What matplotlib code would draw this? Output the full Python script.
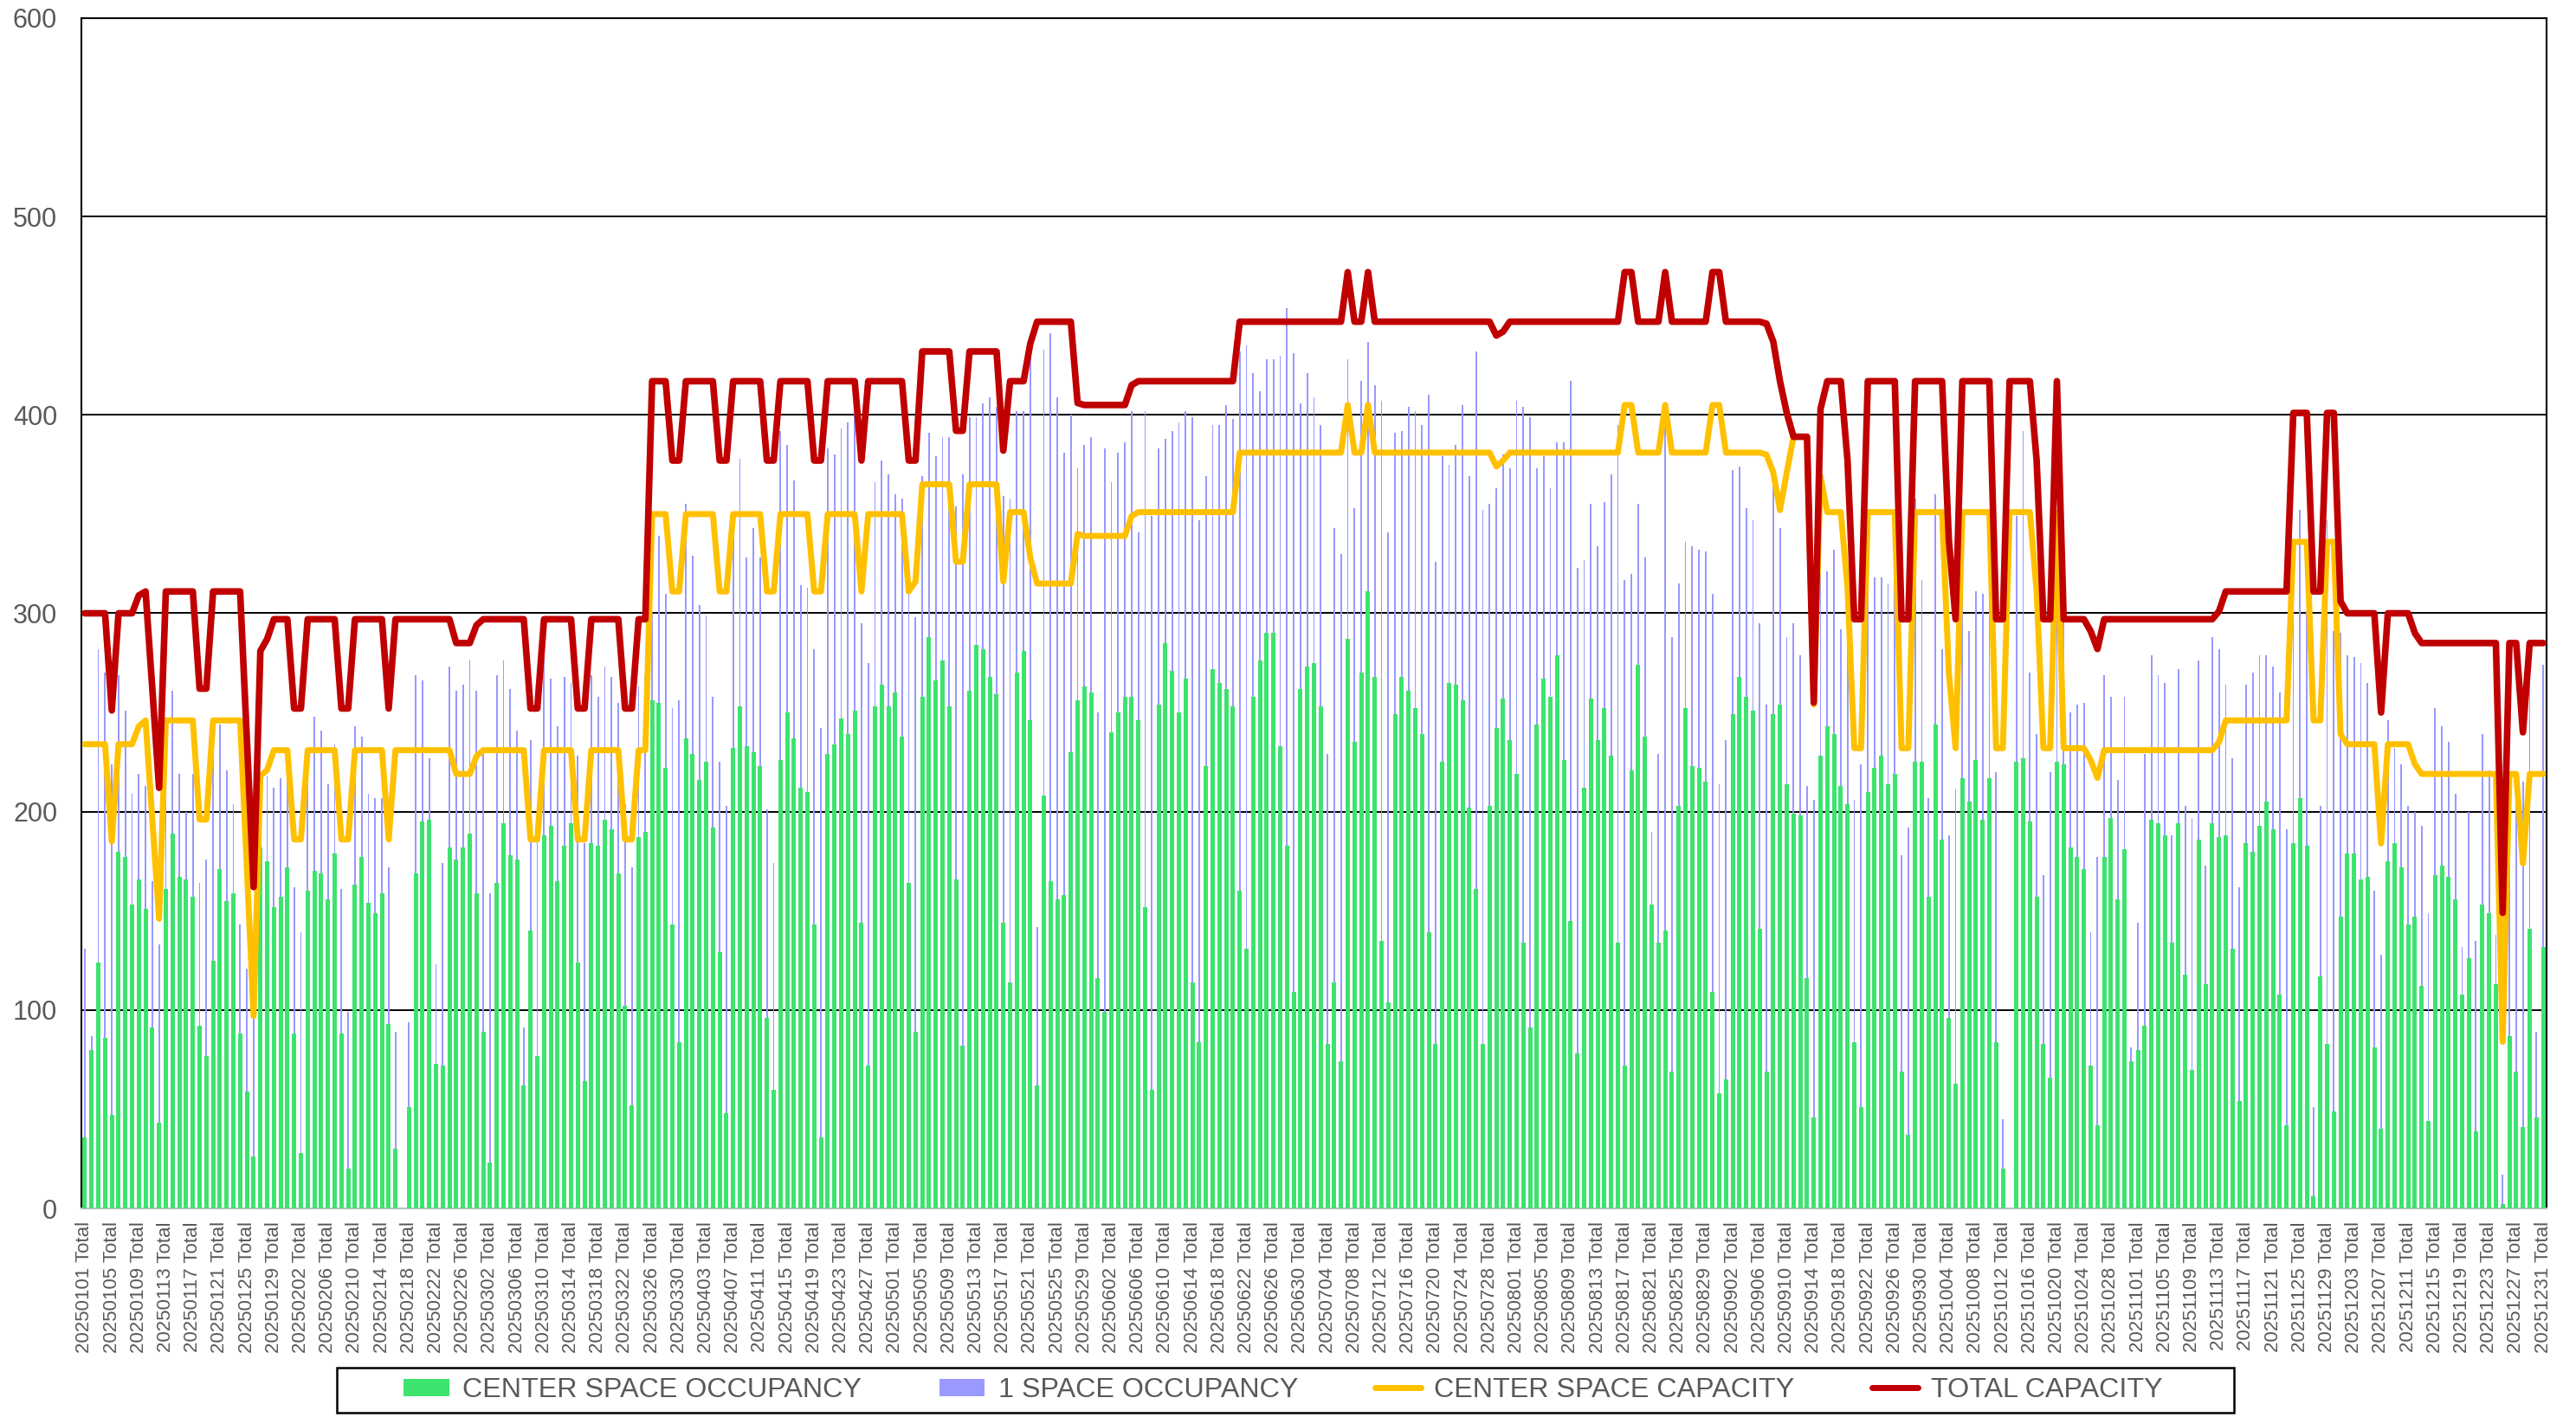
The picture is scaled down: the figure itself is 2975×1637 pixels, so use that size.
import numpy as np
import pandas as pd
import matplotlib
matplotlib.use("Agg")
import matplotlib.pyplot as plt
from matplotlib.patches import Patch, Rectangle
from matplotlib.lines import Line2D

# Daily series for 2025 (one value per calendar day)
center_space_occupancy = [
    36, 80, 124, 86, 47, 180, 177, 153, 166, 151, 91, 43, 161, 189, 167, 166, 157, 92, 77, 125,
    171, 155, 159, 88, 59, 26, 182, 175, 152, 157, 172, 88, 28, 160, 170, 169, 156, 179, 88, 20,
    163, 177, 154, 149, 159, 93, 30, 0, 51, 169, 195, 196, 73, 72, 182, 176, 182, 189, 159, 89,
    23, 164, 194, 178, 176, 62, 140, 77, 188, 193, 165, 183, 194, 124, 64, 184, 183, 196, 191, 169,
    102, 52, 187, 190, 256, 255, 222, 143, 84, 237, 229, 216, 225, 192, 129, 48, 232, 253, 233, 230,
    223, 96, 60, 226, 250, 237, 212, 210, 143, 36, 229, 234, 247, 239, 251, 144, 72, 253, 264, 253,
    260, 238, 164, 89, 258, 288, 266, 276, 253, 166, 82, 261, 284, 282, 268, 259, 144, 114, 270, 281,
    246, 62, 208, 165, 156, 158, 230, 256, 263, 260, 116, 99, 240, 250, 258, 258, 246, 152, 60, 254,
    285, 271, 250, 267, 114, 84, 223, 272, 265, 262, 253, 160, 131, 258, 276, 290, 290, 233, 183, 109,
    262, 273, 275, 253, 83, 114, 74, 287, 235, 270, 311, 268, 135, 104, 249, 268, 261, 252, 239, 139,
    83, 225, 265, 264, 256, 202, 161, 83, 203, 242, 257, 236, 219, 134, 91, 244, 267, 258, 279, 226,
    145, 78, 212, 257, 236, 252, 228, 134, 72, 221, 274, 238, 153, 134, 140, 69, 203, 252, 223, 222,
    215, 109, 58, 65, 249, 268, 258, 251, 141, 69, 249, 254, 214, 199, 198, 116, 46, 228, 243, 239,
    213, 204, 84, 51, 210, 222, 228, 214, 219, 69, 37, 225, 225, 157, 244, 186, 96, 63, 217, 205,
    226, 196, 217, 84, 20, 0, 225, 227, 195, 157, 83, 66, 225, 224, 182, 177, 171, 72, 42, 177,
    197, 156, 181, 74, 80, 92, 196, 194, 188, 134, 194, 118, 70, 186, 113, 194, 187, 188, 131, 54,
    184, 180, 193, 205, 191, 108, 42, 184, 207, 183, 6, 117, 83, 49, 147, 179, 179, 166, 167, 81,
    40, 175, 184, 172, 143, 147, 112, 44, 168, 173, 167, 156, 108, 126, 39, 153, 149, 113, 2, 87,
    69, 41, 141, 46, 132,
]

one_space_occupancy = [
    131, 87, 282, 270, 224, 269, 251, 209, 219, 213, 165, 133, 215, 261, 219, 200, 219, 164, 176, 246,
    244, 221, 204, 143, 121, 100, 218, 218, 212, 217, 231, 162, 139, 231, 248, 241, 214, 234, 161, 99,
    243, 238, 209, 207, 207, 172, 89, 0, 94, 269, 266, 227, 123, 174, 273, 261, 264, 276, 261, 229,
    159, 269, 276, 262, 241, 91, 236, 187, 279, 267, 243, 268, 265, 228, 184, 269, 258, 273, 268, 255,
    204, 172, 263, 269, 300, 339, 310, 252, 256, 355, 329, 304, 299, 258, 225, 203, 349, 378, 328, 343,
    328, 201, 174, 392, 385, 367, 314, 313, 282, 242, 383, 380, 393, 396, 402, 295, 275, 366, 377, 370,
    360, 358, 310, 298, 369, 391, 379, 389, 389, 354, 370, 399, 399, 406, 409, 404, 359, 358, 402, 402,
    431, 142, 433, 441, 409, 381, 400, 373, 385, 389, 250, 383, 366, 381, 386, 402, 341, 402, 349, 383,
    388, 392, 396, 402, 399, 347, 369, 395, 395, 405, 398, 432, 435, 421, 412, 428, 428, 430, 454, 431,
    406, 421, 409, 395, 229, 343, 330, 428, 353, 417, 437, 415, 407, 341, 391, 392, 404, 402, 395, 410,
    326, 379, 375, 385, 405, 369, 432, 352, 355, 363, 380, 373, 407, 404, 399, 373, 379, 363, 386, 386,
    417, 323, 327, 355, 334, 356, 370, 395, 317, 320, 355, 328, 190, 229, 394, 288, 315, 336, 334, 332,
    331, 310, 214, 236, 372, 374, 353, 347, 295, 254, 364, 343, 288, 295, 279, 213, 206, 320, 321, 332,
    292, 300, 206, 224, 318, 318, 318, 315, 317, 178, 192, 358, 317, 207, 360, 282, 188, 211, 307, 291,
    311, 310, 307, 220, 45, 0, 349, 392, 270, 239, 168, 220, 350, 302, 250, 254, 255, 139, 177, 269,
    258, 216, 258, 81, 144, 229, 279, 269, 265, 188, 272, 203, 197, 276, 173, 288, 282, 264, 227, 162,
    264, 270, 279, 279, 273, 260, 191, 301, 352, 301, 51, 203, 347, 291, 290, 279, 278, 275, 265, 160,
    128, 246, 232, 224, 203, 200, 193, 149, 252, 243, 235, 209, 132, 200, 135, 239, 221, 138, 17, 205,
    216, 215, 269, 89, 274,
]

center_space_capacity = [
    234, 234, 234, 234, 185, 234, 234, 234, 243, 246, 196, 146, 246, 246, 246, 246, 246, 196, 196, 246,
    246, 246, 246, 246, 172, 97, 218, 221, 231, 231, 231, 186, 186, 231, 231, 231, 231, 231, 186, 186,
    231, 231, 231, 231, 231, 186, 231, 231, 231, 231, 231, 231, 231, 231, 231, 219, 219, 219, 228, 231,
    231, 231, 231, 231, 231, 231, 186, 186, 231, 231, 231, 231, 231, 186, 186, 231, 231, 231, 231, 231,
    186, 186, 231, 231, 350, 350, 350, 311, 311, 350, 350, 350, 350, 350, 311, 311, 350, 350, 350, 350,
    350, 311, 311, 350, 350, 350, 350, 350, 311, 311, 350, 350, 350, 350, 350, 311, 350, 350, 350, 350,
    350, 350, 311, 316, 365, 365, 365, 365, 365, 326, 326, 365, 365, 365, 365, 365, 316, 351, 351, 351,
    328, 315, 315, 315, 315, 315, 315, 340, 339, 339, 339, 339, 339, 339, 339, 349, 351, 351, 351, 351,
    351, 351, 351, 351, 351, 351, 351, 351, 351, 351, 351, 381, 381, 381, 381, 381, 381, 381, 381, 381,
    381, 381, 381, 381, 381, 381, 381, 405, 381, 381, 405, 381, 381, 381, 381, 381, 381, 381, 381, 381,
    381, 381, 381, 381, 381, 381, 381, 381, 381, 374, 377, 381, 381, 381, 381, 381, 381, 381, 381, 381,
    381, 381, 381, 381, 381, 381, 381, 381, 405, 405, 381, 381, 381, 381, 405, 381, 381, 381, 381, 381,
    381, 405, 405, 381, 381, 381, 381, 381, 381, 380, 371, 352, 371, 389, 389, 389, 254, 369, 351, 351,
    351, 313, 232, 232, 351, 351, 351, 351, 351, 232, 232, 351, 351, 351, 351, 351, 270, 232, 351, 351,
    351, 351, 351, 232, 232, 351, 351, 351, 351, 311, 232, 232, 351, 232, 232, 232, 232, 226, 217, 231,
    231, 231, 231, 231, 231, 231, 231, 231, 231, 231, 231, 231, 231, 231, 231, 231, 235, 246, 246, 246,
    246, 246, 246, 246, 246, 246, 246, 336, 336, 336, 246, 246, 336, 336, 239, 234, 234, 234, 234, 234,
    184, 234, 234, 234, 234, 224, 219, 219, 219, 219, 219, 219, 219, 219, 219, 219, 219, 219, 84, 219,
    219, 174, 219, 219, 219,
]

total_capacity = [
    300, 300, 300, 300, 251, 300, 300, 300, 309, 311, 262, 212, 311, 311, 311, 311, 311, 262, 262, 311,
    311, 311, 311, 311, 237, 162, 281, 287, 297, 297, 297, 252, 252, 297, 297, 297, 297, 297, 252, 252,
    297, 297, 297, 297, 297, 252, 297, 297, 297, 297, 297, 297, 297, 297, 297, 285, 285, 285, 294, 297,
    297, 297, 297, 297, 297, 297, 252, 252, 297, 297, 297, 297, 297, 252, 252, 297, 297, 297, 297, 297,
    252, 252, 297, 297, 417, 417, 417, 377, 377, 417, 417, 417, 417, 417, 377, 377, 417, 417, 417, 417,
    417, 377, 377, 417, 417, 417, 417, 417, 377, 377, 417, 417, 417, 417, 417, 377, 417, 417, 417, 417,
    417, 417, 377, 377, 432, 432, 432, 432, 432, 392, 392, 432, 432, 432, 432, 432, 382, 417, 417, 417,
    436, 447, 447, 447, 447, 447, 447, 406, 405, 405, 405, 405, 405, 405, 405, 415, 417, 417, 417, 417,
    417, 417, 417, 417, 417, 417, 417, 417, 417, 417, 417, 447, 447, 447, 447, 447, 447, 447, 447, 447,
    447, 447, 447, 447, 447, 447, 447, 472, 447, 447, 472, 447, 447, 447, 447, 447, 447, 447, 447, 447,
    447, 447, 447, 447, 447, 447, 447, 447, 447, 440, 442, 447, 447, 447, 447, 447, 447, 447, 447, 447,
    447, 447, 447, 447, 447, 447, 447, 447, 472, 472, 447, 447, 447, 447, 472, 447, 447, 447, 447, 447,
    447, 472, 472, 447, 447, 447, 447, 447, 447, 446, 437, 417, 401, 389, 389, 389, 255, 403, 417, 417,
    417, 377, 297, 297, 417, 417, 417, 417, 417, 297, 297, 417, 417, 417, 417, 417, 337, 297, 417, 417,
    417, 417, 417, 297, 297, 417, 417, 417, 417, 377, 297, 297, 417, 297, 297, 297, 297, 291, 282, 297,
    297, 297, 297, 297, 297, 297, 297, 297, 297, 297, 297, 297, 297, 297, 297, 297, 301, 311, 311, 311,
    311, 311, 311, 311, 311, 311, 311, 401, 401, 401, 311, 311, 401, 401, 306, 300, 300, 300, 300, 300,
    250, 300, 300, 300, 300, 290, 285, 285, 285, 285, 285, 285, 285, 285, 285, 285, 285, 285, 149, 285,
    285, 240, 285, 285, 285,
]

dates = pd.date_range("2025-01-01", "2025-12-31", freq="D")
category_labels = [d.strftime("%Y%m%d") + " Total" for d in dates]

series_names = ["CENTER SPACE OCCUPANCY", "1 SPACE OCCUPANCY",
                "CENTER SPACE CAPACITY", "TOTAL CAPACITY"]
colors = ["#3DE36F", "#9999FF", "#FFC000", "#C00000"]
text_gray = "#595959"

plt.rcParams["font.family"] = ["Liberation Sans", "DejaVu Sans"]

W, H = 2975, 1637
fig = plt.figure(figsize=(W / 100, H / 100), dpi=100)
left, right, top, bottom = 94, 2941, 21, 1396
ax = fig.add_axes([left / W, 1 - bottom / H, (right - left) / W, (bottom - top) / H])

x = np.arange(len(category_labels))
ax.bar(x, one_space_occupancy, width=0.22, color=colors[1], zorder=2, linewidth=0)
ax.bar(x, center_space_occupancy, width=0.62, color=colors[0], zorder=3, linewidth=0)
ax.plot(x, center_space_capacity, color=colors[2], lw=5, zorder=4,
        solid_joinstyle="round", solid_capstyle="round")
ax.plot(x, total_capacity, color=colors[3], lw=5.5, zorder=5,
        solid_joinstyle="round", solid_capstyle="round")

ax.set_xlim(-0.5, len(x) - 0.5)
ax.set_ylim(0, 600)
ax.set_yticks(np.arange(0, 601, 100))
ax.yaxis.grid(True, color="black", lw=1.4, zorder=1)
ax.set_axisbelow(True)

ax.set_xticks(x[::4])
ax.set_xticklabels(category_labels[::4], rotation=90, fontsize=16, color=text_gray)
ax.tick_params(axis="x", length=0, pad=11)
ax.tick_params(axis="y", length=0, pad=20, labelsize=22, labelcolor=text_gray)

for side in ["left", "top", "right"]:
    ax.spines[side].set_color("black")
    ax.spines[side].set_linewidth(1.5)
ax.spines["bottom"].set_color("#BFBFBF")
ax.spines["bottom"].set_linewidth(1.5)

# Legend box drawn above the tick labels
box_l, box_r, box_t, box_b = 389, 2580, 1580, 1632
fig.add_artist(Rectangle((box_l / W, 1 - box_b / H), (box_r - box_l) / W, (box_b - box_t) / H,
                         transform=fig.transFigure, facecolor="white", edgecolor="black",
                         lw=1.8, zorder=1))

handles = [Patch(facecolor=colors[0]), Patch(facecolor=colors[1]),
           Line2D([], [], color=colors[2], lw=5, solid_capstyle="round"),
           Line2D([], [], color=colors[3], lw=5, solid_capstyle="round")]
leg = fig.legend(handles, series_names, loc="center", bbox_to_anchor=(1482 / W, 1 - 1606 / H),
                 ncol=4, frameon=False, fontsize=23.2, handlelength=1.64, handleheight=0.57,
                 handletextpad=0.47, columnspacing=2.78, borderpad=0.1)
leg.set_zorder(5)
for t in leg.get_texts():
    t.set_color(text_gray)

fig.savefig("out.png", dpi=100, facecolor="white")
